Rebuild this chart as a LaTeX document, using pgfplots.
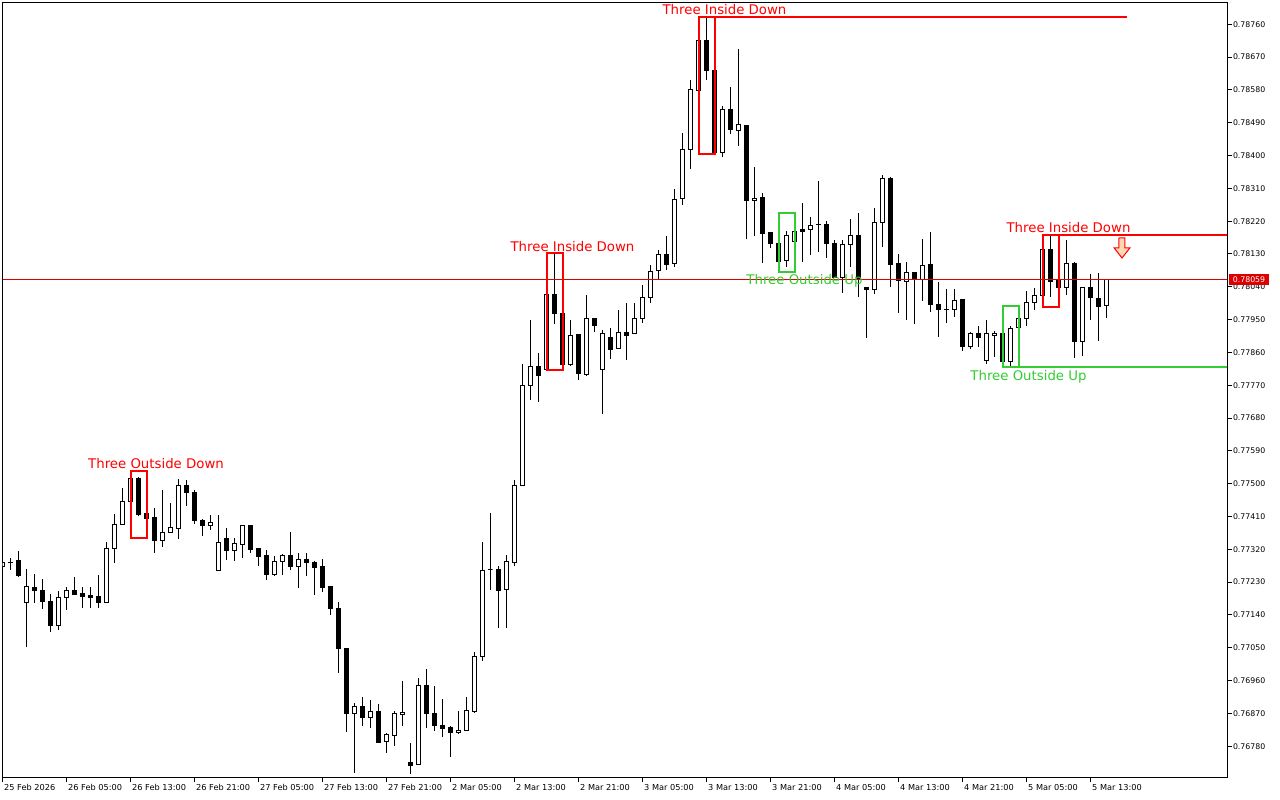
\documentclass[border=0pt]{standalone}
\usepackage{fontspec}
\setmainfont{DejaVu Sans}
\usepackage{pgfplots}
\pgfplotsset{compat=1.18}
\usepackage{pgfplotstable}

\definecolor{patred}{RGB}{255,0,0}
\definecolor{patgreen}{RGB}{50,205,50}
\definecolor{pricered}{RGB}{220,0,0}
\definecolor{arrowfill}{RGB}{255,215,180}

\pgfplotstableread{
i O H L C
0 0.77274 0.77285 0.77272 0.77283
1 0.77284 0.77296 0.77263 0.77285
2 0.77288 0.77315 0.77244 0.77247
3 0.77173 0.77266 0.77052 0.77217
4 0.77214 0.77252 0.77173 0.77207
5 0.77208 0.77239 0.77157 0.77176
6 0.77178 0.77197 0.77094 0.77110
7 0.77112 0.77205 0.77099 0.77189
8 0.77188 0.77217 0.77154 0.77208
9 0.77208 0.77245 0.77195 0.77197
10 0.77199 0.77217 0.77160 0.77190
11 0.77192 0.77217 0.77160 0.77188
12 0.77190 0.77250 0.77160 0.77174
13 0.77174 0.77339 0.77172 0.77323
14 0.77323 0.77416 0.77282 0.77389
15 0.77389 0.77487 0.77387 0.77452
16 0.77452 0.77529 0.77431 0.77515
17 0.77515 0.77518 0.77410 0.77416
18 0.77418 0.77444 0.77403 0.77405
19 0.77406 0.77433 0.77311 0.77344
20 0.77345 0.77483 0.77327 0.77365
21 0.77367 0.77447 0.77364 0.77381
22 0.77378 0.77513 0.77348 0.77496
23 0.77496 0.77510 0.77440 0.77475
24 0.77475 0.77483 0.77389 0.77399
25 0.77400 0.77402 0.77357 0.77386
26 0.77386 0.77414 0.77373 0.77393
27 0.77263 0.77414 0.77262 0.77339
28 0.77350 0.77379 0.77291 0.77316
29 0.77316 0.77350 0.77289 0.77335
30 0.77334 0.77387 0.77297 0.77384
31 0.77384 0.77385 0.77311 0.77320
32 0.77321 0.77322 0.77275 0.77300
33 0.77302 0.77318 0.77236 0.77250
34 0.77251 0.77302 0.77248 0.77287
35 0.77287 0.77308 0.77250 0.77302
36 0.77302 0.77368 0.77262 0.77273
37 0.77273 0.77310 0.77215 0.77293
38 0.77293 0.77310 0.77248 0.77283
39 0.77285 0.77287 0.77195 0.77270
40 0.77272 0.77294 0.77204 0.77214
41 0.77217 0.77218 0.77141 0.77157
42 0.77159 0.77176 0.76982 0.77048
43 0.77048 0.77049 0.76820 0.76870
44 0.76870 0.76899 0.76707 0.76890
45 0.76890 0.76915 0.76836 0.76858
46 0.76858 0.76907 0.76831 0.76874
47 0.76874 0.76896 0.76789 0.76790
48 0.76793 0.76817 0.76762 0.76813
49 0.76809 0.76877 0.76781 0.76871
50 0.76868 0.76959 0.76836 0.76873
51 0.76734 0.76789 0.76705 0.76727
52 0.76730 0.76966 0.76729 0.76946
53 0.76946 0.76991 0.76831 0.76869
54 0.76870 0.76945 0.76823 0.76836
55 0.76838 0.76910 0.76804 0.76828
56 0.76830 0.76836 0.76750 0.76817
57 0.76817 0.76877 0.76813 0.76824
58 0.76823 0.76915 0.76822 0.76879
59 0.76875 0.77038 0.76872 0.77027
60 0.77025 0.77341 0.77015 0.77263
61 0.77265 0.77419 0.77208 0.77265
62 0.77265 0.77274 0.77104 0.77207
63 0.77210 0.77305 0.77104 0.77286
64 0.77283 0.77510 0.77274 0.77495
65 0.77495 0.77828 0.77493 0.77770
66 0.77769 0.77949 0.77730 0.77822
67 0.77822 0.77858 0.77725 0.77796
68 0.77812 0.78084 0.77811 0.78020
69 0.78020 0.78132 0.77937 0.77968
70 0.77968 0.77984 0.77826 0.77827
71 0.77827 0.77949 0.77823 0.77907
72 0.77910 0.77911 0.77784 0.77802
73 0.77799 0.78018 0.77794 0.77954
74 0.77954 0.77955 0.77915 0.77934
75 0.77814 0.77922 0.77692 0.77913
76 0.77902 0.77926 0.77843 0.77868
77 0.77871 0.77976 0.77869 0.77915
78 0.77915 0.77995 0.77839 0.77906
79 0.77911 0.77995 0.77910 0.77954
80 0.77954 0.78045 0.77942 0.78011
81 0.78011 0.78100 0.77995 0.78083
82 0.78084 0.78141 0.78060 0.78129
83 0.78129 0.78178 0.78086 0.78102
84 0.78105 0.78308 0.78095 0.78280
85 0.78283 0.78462 0.78263 0.78417
86 0.78417 0.78607 0.78363 0.78582
87 0.78579 0.78731 0.78545 0.78716
88 0.78716 0.78781 0.78606 0.78634
89 0.78634 0.78687 0.78404 0.78409
90 0.78409 0.78536 0.78395 0.78527
91 0.78527 0.78587 0.78459 0.78472
92 0.78470 0.78692 0.78427 0.78486
93 0.78483 0.78484 0.78170 0.78276
94 0.78277 0.78368 0.78179 0.78283
95 0.78286 0.78297 0.78106 0.78186
96 0.78188 0.78189 0.78147 0.78160
97 0.78160 0.78170 0.78080 0.78109
98 0.78111 0.78193 0.78095 0.78181
99 0.78163 0.78242 0.78105 0.78193
100 0.78196 0.78271 0.78107 0.78191
101 0.78197 0.78232 0.78127 0.78209
102 0.78212 0.78330 0.78136 0.78211
103 0.78211 0.78221 0.78120 0.78160
104 0.78160 0.78169 0.78064 0.78065
105 0.78065 0.78169 0.78024 0.78157
106 0.78157 0.78225 0.78095 0.78182
107 0.78182 0.78242 0.78011 0.78061
108 0.78039 0.78039 0.77899 0.78032
109 0.78032 0.78255 0.78019 0.78215
110 0.78215 0.78347 0.78150 0.78338
111 0.78338 0.78342 0.78039 0.78102
112 0.78105 0.78129 0.77969 0.78058
113 0.78055 0.78107 0.77949 0.78080
114 0.78080 0.78081 0.77938 0.78060
115 0.78061 0.78171 0.78002 0.78099
116 0.78102 0.78190 0.77972 0.77991
117 0.77992 0.78053 0.77903 0.77977
118 0.77978 0.78033 0.77940 0.77977
119 0.77977 0.78033 0.77958 0.78002
120 0.78004 0.78004 0.77865 0.77876
121 0.77876 0.77916 0.77870 0.77911
122 0.77911 0.77933 0.77876 0.77901
123 0.77837 0.77949 0.77828 0.77911
124 0.77907 0.77919 0.77847 0.77913
125 0.77913 0.77937 0.77834 0.77835
126 0.77835 0.77932 0.77819 0.77926
127 0.77929 0.77958 0.77908 0.77953
128 0.77953 0.78029 0.77933 0.77998
129 0.77998 0.78036 0.77976 0.78016
130 0.78017 0.78166 0.77996 0.78141
131 0.78141 0.78181 0.78013 0.78054
132 0.78056 0.78067 0.77985 0.78038
133 0.78039 0.78167 0.78018 0.78105
134 0.78105 0.78109 0.77844 0.77890
135 0.77890 0.78040 0.77849 0.78039
136 0.78039 0.78075 0.77949 0.78010
137 0.78009 0.78077 0.77890 0.77986
138 0.77988 0.78059 0.77954 0.78059
}\candles

\pgfplotstableread{
x y
0 0.78059
153.1 0.78059
}\priceline

\newcommand{\patfont}{\fontsize{13.3}{15}\selectfont}

\begin{document}
\begin{tikzpicture}
\path[use as bounding box] (0,0) rectangle (1280pt,800pt);
\begin{axis}[
  at={(2.5pt,22pt)}, anchor=south west,
  scale only axis, width=1224.8pt, height=775.7pt,
  xmin=0, xmax=153.1, ymin=0.766928, ymax=0.788203,
  axis line style={line width=1pt, black},
  tick align=outside, major tick length=4.5pt,
  tick style={black, line width=1pt},
  xtick pos=bottom, ytick pos=right, yticklabel pos=right,
  xtick={0,8,...,136},
  xticklabels={25 Feb 2026,26 Feb 05:00,26 Feb 13:00,26 Feb 21:00,27 Feb 05:00,27 Feb 13:00,27 Feb 21:00,2 Mar 05:00,2 Mar 13:00,2 Mar 21:00,3 Mar 05:00,3 Mar 13:00,3 Mar 21:00,4 Mar 05:00,4 Mar 13:00,4 Mar 21:00,5 Mar 05:00,5 Mar 13:00},
  ytick={0.7678,0.7687,0.7696,0.7705,0.7714,0.7723,0.7732,0.7741,0.7750,0.7759,0.7768,0.7777,0.7786,0.7795,0.7804,0.7813,0.7822,0.7831,0.7840,0.7849,0.7858,0.7867,0.7876},
  scaled y ticks=false,
  yticklabel style={/pgf/number format/fixed, /pgf/number format/precision=5, /pgf/number format/fixed zerofill, /pgf/number format/assume math mode=true, font=\fontsize{7.8}{9}\selectfont, anchor=west, inner sep=0pt, xshift=1pt},
  xticklabel style={font=\fontsize{8.2}{9}\selectfont, anchor=north west, inner sep=0pt, xshift=1.5pt, yshift=-1.5pt},
  clip=true,
]
% candles
\pgfplotstablegetrowsof{\candles}
\pgfmathtruncatemacro{\nrows}{\pgfplotsretval-1}
\pgfplotsforeachungrouped \r in {0,...,\nrows}{%
  \pgfplotstablegetelem{\r}{i}\of\candles \let\ci\pgfplotsretval
  \pgfplotstablegetelem{\r}{O}\of\candles \let\co\pgfplotsretval
  \pgfplotstablegetelem{\r}{H}\of\candles \let\ch\pgfplotsretval
  \pgfplotstablegetelem{\r}{L}\of\candles \let\cl\pgfplotsretval
  \pgfplotstablegetelem{\r}{C}\of\candles \let\cc\pgfplotsretval
  \pgfmathparse{\cc>\co ? 1 : 0}%
  \ifdim\pgfmathresult pt>0.5pt
    \let\cLo\co \let\cHi\cc \def\cFill{white}%
  \else
    \let\cLo\cc \let\cHi\co \def\cFill{black}%
  \fi
  \pgfmathsetmacro{\xa}{\ci-0.25}%
  \pgfmathsetmacro{\xb}{\ci+0.25}%
  \edef\doplot{\noexpand\addplot[black, line width=1pt] coordinates {(\ci,\cl) (\ci,\ch)};
    \noexpand\addplot[draw=black, fill=\cFill, line width=1pt, line cap=rect] coordinates {(\xa,\cLo) (\xb,\cLo) (\xb,\cHi) (\xa,\cHi) (\xa,\cLo)};}%
  \doplot
}

% current price line
\addplot[red!88!black, line width=1pt, solid, mark=none] table[x=x, y=y] {\priceline};

% pattern boxes
\addplot[patred, line width=2pt, line cap=rect] coordinates {(16,0.77536) (18,0.77536) (18,0.77352) (16,0.77352) (16,0.77536)};
\addplot[patred, line width=2pt, line cap=rect] coordinates {(68,0.78132) (70,0.78132) (70,0.77812) (68,0.77812) (68,0.78132)};
\addplot[patred, line width=2pt, line cap=rect] coordinates {(87,0.78781) (89,0.78781) (89,0.78404) (87,0.78404) (87,0.78781)};
\addplot[patred, line width=2pt] coordinates {(89,0.78781) (140.53,0.78781)};
\addplot[patgreen, line width=2pt, line cap=rect] coordinates {(97,0.78242) (99,0.78242) (99,0.78080) (97,0.78080) (97,0.78242)};
\addplot[patgreen, line width=2pt, line cap=rect] coordinates {(125,0.77987) (127,0.77987) (127,0.77819) (125,0.77819) (125,0.77987)};
\addplot[patgreen, line width=2pt] coordinates {(127,0.77819) (153.1,0.77819)};
\addplot[patred, line width=2pt, line cap=rect] coordinates {(130,0.78182) (132,0.78182) (132,0.77984) (130,0.77984) (130,0.78182)};
\addplot[patred, line width=2pt] coordinates {(132,0.78182) (153.1,0.78182)};

% arrow
\addplot[draw=patred, fill=arrowfill, line width=1pt] coordinates {(139.56,0.78174) (140.31,0.78174) (140.31,0.78147) (140.94,0.78147) (139.94,0.78119) (138.94,0.78147) (139.56,0.78147) (139.56,0.78174)};

% labels
\node[text=patred, font=\patfont, anchor=base, inner sep=0pt] at (axis cs:19.19,0.77543) {Three Outside Down};
\node[text=patred, font=\patfont, anchor=base, inner sep=0pt] at (axis cs:71.25,0.78138) {Three Inside Down};
\node[text=patred, font=\patfont, anchor=base, inner sep=0pt] at (axis cs:90.25,0.78788) {Three Inside Down};
\node[text=patgreen, font=\patfont, anchor=base, inner sep=0pt] at (axis cs:100.25,0.78045) {Three Outside Up};
\node[text=patgreen, font=\patfont, anchor=base, inner sep=0pt] at (axis cs:128.25,0.77782) {Three Outside Up};
\node[text=patred, font=\patfont, anchor=base, inner sep=0pt] at (axis cs:133.25,0.78190) {Three Inside Down};

\coordinate (plab) at (axis cs:153.1,0.78059);
\end{axis}
\node[fill=pricered, text=white, font=\fontsize{7.8}{9}\selectfont, anchor=west, inner sep=0pt, minimum height=11pt, minimum width=40pt] at ([xshift=1.5pt]plab) {0.78059};
\end{tikzpicture}
\end{document}
